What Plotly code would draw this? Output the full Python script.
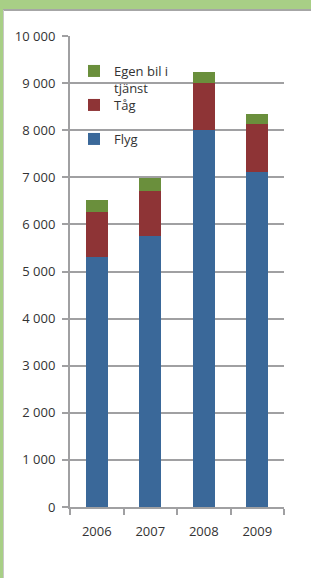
import plotly.graph_objects as go

years = ["2006", "2007", "2008", "2009"]
flyg = [5310, 5760, 8010, 7110]
tag = [955, 940, 1000, 1025]
egen_bil = [260, 275, 230, 210]
series_names = ["Flyg", "Tåg", "Egen bil i<br>tjänst"]
series_colors = ["#3a6899", "#8e3436", "#6a8f3c"]
y_ticks = [0, 1000, 2000, 3000, 4000, 5000, 6000, 7000, 8000, 9000, 10000]

W, H = 311, 578
ML, MR, MT, MB = 70, 27, 36, 71
pw, ph = W - ML - MR, H - MT - MB

def px_x(p):
    return (p - ML) / pw

def px_y(p):
    return (H - MB - p) / ph

legend_ids = ["legend3", "legend2", "legend"]
legend_tops = {"legend": 56, "legend2": 90, "legend3": 124}

fig = go.Figure()
for name, vals, col, lg in zip(series_names, [flyg, tag, egen_bil], series_colors, legend_ids):
    fig.add_trace(go.Bar(
        x=years, y=vals, name=name, marker_color=col,
        marker_line_width=0, legend=lg,
    ))

gray = "#a0a0a2"
font_family = "Open Sans, Noto Sans, sans-serif"

def legend_style(top):
    return dict(
        x=px_x(74), y=px_y(top), xanchor="left", yanchor="top",
        valign="top", bgcolor="rgba(0,0,0,0)",
        font=dict(size=13, color="#333333"), itemwidth=30,
    )

fig.update_layout(
    width=W, height=H,
    margin=dict(l=ML, r=MR, t=MT, b=MB, pad=0),
    barmode="stack", bargap=0.59,
    paper_bgcolor="white", plot_bgcolor="white",
    separators=", ",
    font=dict(family=font_family, size=13, color="#333333"),
    showlegend=True,
    legend=legend_style(legend_tops["legend"]),
    legend2=legend_style(legend_tops["legend2"]),
    legend3=legend_style(legend_tops["legend3"]),
    xaxis=dict(
        showline=True, linecolor=gray, linewidth=2,
        ticks="outside", ticklen=6, tickwidth=2, tickcolor=gray,
        tickson="boundaries", showgrid=False,
        ticklabelstandoff=11,
        tickfont=dict(size=13, color="#333333"),
    ),
    yaxis=dict(
        range=[0, 10000], tickvals=y_ticks, tickformat=",d",
        showline=True, linecolor=gray, linewidth=2,
        ticks="outside", ticklen=6, tickwidth=2, tickcolor=gray,
        showgrid=True, gridcolor=gray, gridwidth=2,
        zeroline=False, ticklabelstandoff=4,
        tickfont=dict(size=13, color="#333333"),
    ),
    shapes=[
        dict(type="rect", xref="paper", yref="paper",
             x0=px_x(0), x1=px_x(W), y0=px_y(0), y1=px_y(9),
             fillcolor="#a8cf86", line_width=0, layer="above"),
        dict(type="rect", xref="paper", yref="paper",
             x0=px_x(0), x1=px_x(3), y0=px_y(0), y1=px_y(H),
             fillcolor="#a8cf86", line_width=0, layer="above"),
        dict(type="line", xref="paper", yref="paper",
             x0=px_x(3), x1=px_x(W), y0=px_y(10), y1=px_y(10),
             line=dict(color="#a6a6a6", width=2), layer="above"),
        dict(type="line", xref="paper", yref="paper",
             x0=px_x(3.5), x1=px_x(3.5), y0=px_y(10), y1=px_y(H),
             line=dict(color="#c8c8c8", width=1), layer="above"),
    ],
)

fig.write_html("out.html", config={"displayModeBar": False},
               post_script="document.body.style.margin='0';")
